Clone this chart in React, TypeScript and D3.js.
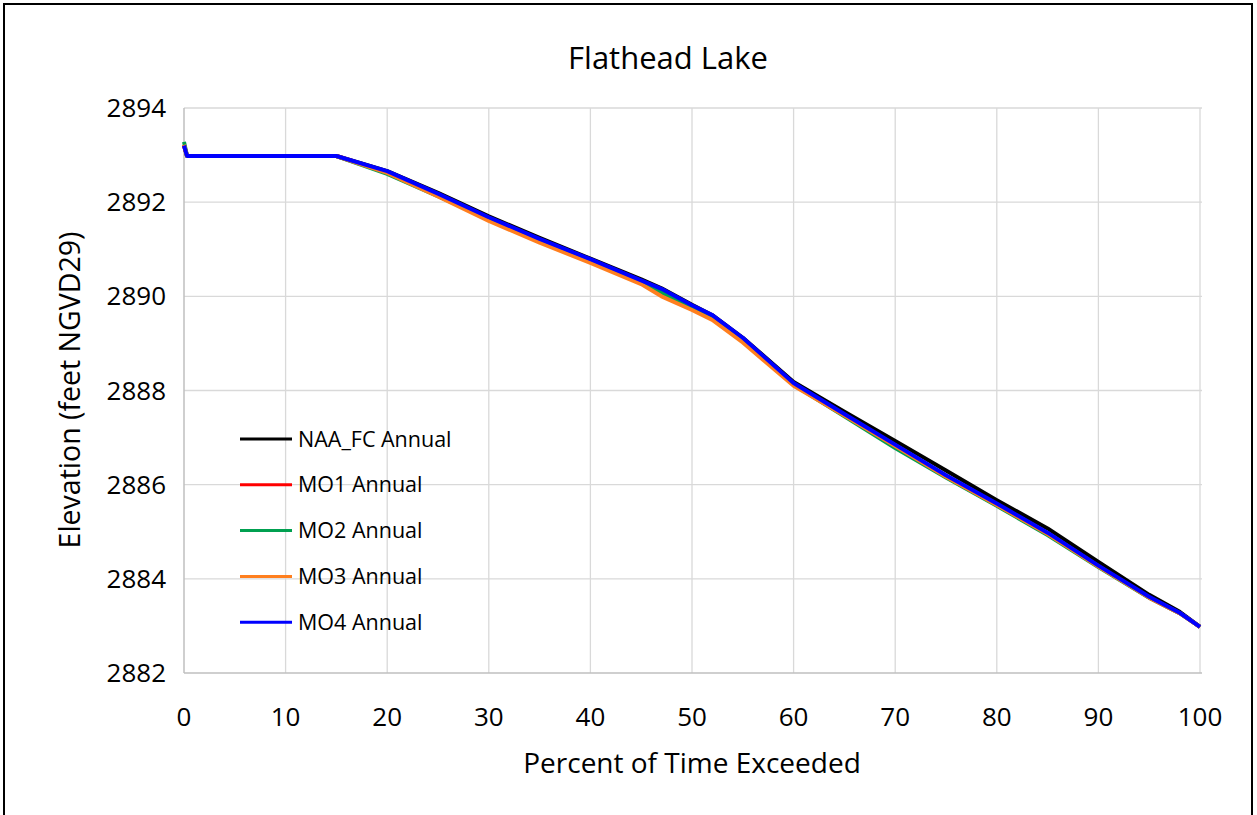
import React, { useEffect, useRef } from "react";
import * as d3 from "d3";

const percentExceeded = [0, 0.3, 5, 10, 15, 20, 25, 30, 35, 40, 45, 47, 50, 52, 55, 60, 65, 70, 75, 80, 85, 90, 95, 98, 100];

const naaFc = [2893.2, 2892.98, 2892.98, 2892.98, 2892.98, 2892.66, 2892.2, 2891.7, 2891.24, 2890.8, 2890.36, 2890.17, 2889.82, 2889.6, 2889.12, 2888.18, 2887.55, 2886.93, 2886.3, 2885.67, 2885.07, 2884.36, 2883.66, 2883.3, 2882.98];
const mo1 = [2893.22, 2892.98, 2892.98, 2892.98, 2892.98, 2892.63, 2892.14, 2891.64, 2891.17, 2890.74, 2890.29, 2890.05, 2889.75, 2889.52, 2889.05, 2888.12, 2887.48, 2886.83, 2886.18, 2885.58, 2884.96, 2884.27, 2883.6, 2883.27, 2882.98];
const mo2 = [2893.28, 2892.98, 2892.98, 2892.98, 2892.98, 2892.6, 2892.13, 2891.64, 2891.18, 2890.75, 2890.31, 2890.08, 2889.77, 2889.54, 2889.07, 2888.12, 2887.45, 2886.78, 2886.15, 2885.55, 2884.93, 2884.25, 2883.6, 2883.27, 2882.98];
const mo3 = [2893.22, 2892.98, 2892.98, 2892.98, 2892.98, 2892.62, 2892.12, 2891.6, 2891.14, 2890.71, 2890.26, 2890.0, 2889.71, 2889.5, 2889.02, 2888.1, 2887.47, 2886.82, 2886.17, 2885.57, 2884.95, 2884.26, 2883.6, 2883.27, 2882.98];
const mo4 = [2893.2, 2892.98, 2892.98, 2892.98, 2892.98, 2892.66, 2892.18, 2891.68, 2891.22, 2890.79, 2890.34, 2890.16, 2889.81, 2889.6, 2889.12, 2888.16, 2887.5, 2886.85, 2886.2, 2885.6, 2884.98, 2884.28, 2883.62, 2883.28, 2882.98];

const seriesNames = ["NAA_FC Annual", "MO1 Annual", "MO2 Annual", "MO3 Annual", "MO4 Annual"];
const seriesColors = ["#000000", "#ff0000", "#00a050", "#ff7f1e", "#0000ff"];
const seriesValues = [naaFc, mo1, mo2, mo3, mo4];

const xTicks = [0, 10, 20, 30, 40, 50, 60, 70, 80, 90, 100];
const yTicks = [2882, 2884, 2886, 2888, 2890, 2892, 2894];

const W = 1257;
const H = 815;
const FONT = "'Open Sans', 'Noto Sans', sans-serif";

export default function App() {
  const ref = useRef<SVGSVGElement | null>(null);

  useEffect(() => {
    const svg = d3.select(ref.current);
    svg.selectAll("*").remove();

    const left = 184, right = 1200, top = 108, bottom = 673;
    const x = d3.scaleLinear().domain([0, 100]).range([left, right]);
    const y = d3.scaleLinear().domain([2882, 2894]).range([bottom, top]);

    svg.append("rect").attr("x", 0).attr("y", 0).attr("width", W).attr("height", H).attr("fill", "#fff");
    svg.append("rect").attr("x", 4).attr("y", 4).attr("width", 1248).attr("height", 820)
      .attr("fill", "none").attr("stroke", "#000").attr("stroke-width", 2);

    // gridlines
    svg.append("g").selectAll("line").data(yTicks.slice(1)).join("line")
      .attr("x1", left).attr("x2", right + 2)
      .attr("y1", d => y(d)).attr("y2", d => y(d))
      .attr("stroke", "#d9d9d9").attr("stroke-width", 1.3);
    svg.append("g").selectAll("line").data(xTicks.slice(1)).join("line")
      .attr("x1", d => x(d)).attr("x2", d => x(d))
      .attr("y1", top).attr("y2", bottom)
      .attr("stroke", "#d9d9d9").attr("stroke-width", 1.3);

    // axis lines
    svg.append("line").attr("x1", left).attr("x2", left).attr("y1", top).attr("y2", bottom)
      .attr("stroke", "#bfbfbf").attr("stroke-width", 1.5);
    svg.append("line").attr("x1", left).attr("x2", right + 2).attr("y1", bottom).attr("y2", bottom)
      .attr("stroke", "#bfbfbf").attr("stroke-width", 1.5);

    // tick labels
    svg.append("g").selectAll("text").data(yTicks).join("text")
      .attr("x", 166).attr("y", d => y(d)).attr("dy", "0.35em")
      .attr("text-anchor", "end").attr("font-family", FONT).attr("font-size", 26)
      .attr("fill", "#000").text(d => String(d));
    svg.append("g").selectAll("text").data(xTicks).join("text")
      .attr("x", d => x(d)).attr("y", 717).attr("dy", "0.35em")
      .attr("text-anchor", "middle").attr("font-family", FONT).attr("font-size", 26)
      .attr("fill", "#000").text(d => String(d));

    // titles
    svg.append("text").attr("x", 668).attr("y", 58).attr("dy", "0.35em")
      .attr("text-anchor", "middle").attr("font-family", FONT).attr("font-size", 31)
      .text("Flathead Lake");
    svg.append("text").attr("x", 692).attr("y", 763).attr("dy", "0.35em")
      .attr("text-anchor", "middle").attr("font-family", FONT).attr("font-size", 28)
      .text("Percent of Time Exceeded");
    svg.append("text").attr("transform", "translate(70,390) rotate(-90)").attr("dy", "0.35em")
      .attr("text-anchor", "middle").attr("font-family", FONT).attr("font-size", 28.5)
      .text("Elevation (feet NGVD29)");

    // series
    const line = d3.line<number>()
      .x((_, i) => x(percentExceeded[i]))
      .y(d => y(d));
    seriesValues.forEach((vals, i) => {
      svg.append("path").datum(vals).attr("d", line)
        .attr("fill", "none").attr("stroke", seriesColors[i]).attr("stroke-width", 4)
        .attr("stroke-linejoin", "round");
    });

    // legend
    const lg = svg.append("g");
    seriesNames.forEach((name, i) => {
      const ly = 439 + i * 45.8;
      lg.append("line").attr("x1", 240).attr("x2", 292).attr("y1", ly).attr("y2", ly)
        .attr("stroke", seriesColors[i]).attr("stroke-width", 3);
      lg.append("text").attr("x", 298).attr("y", ly).attr("dy", "0.35em")
        .attr("font-family", FONT).attr("font-size", 21.5).text(name);
    });
  }, []);

  return (
    <svg ref={ref} width={W} height={H}
      style={{ position: "absolute", left: 0, top: 0, display: "block" }} />
  );
}
